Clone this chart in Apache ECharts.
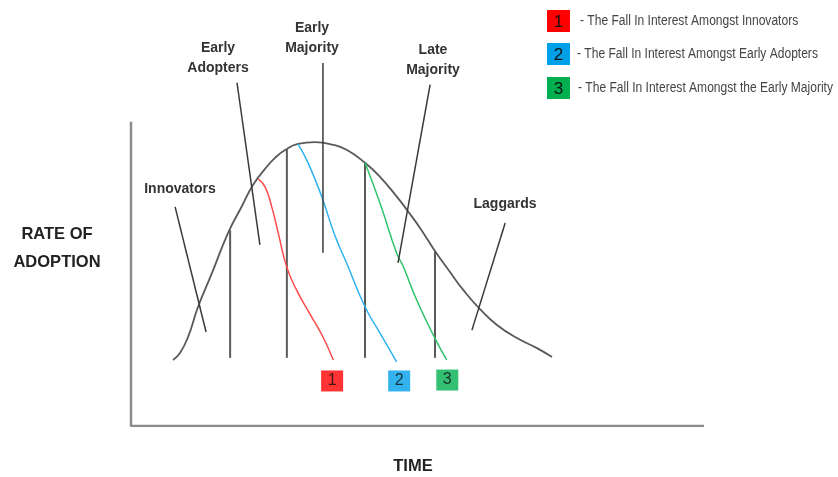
<!DOCTYPE html>
<html>
<head>
<meta charset="utf-8">
<script src="https://cdn.jsdelivr.net/npm/echarts@6/dist/echarts.min.js"></script>
<style>
html,body{margin:0;padding:0;background:#fff;}
#chart{width:838px;height:477px;}
</style>
</head>
<body>
<div id="chart"></div>
<script>
// ---- data (time units 0..100, rate units 0..100) ----
const bellCurve = [[7.33,21.7],[8.55,24.0],[9.95,29.2],[11.69,39.1],[14.14,50.3],[16.93,63.4],[19.37,72.3],[21.29,79.2],[23.39,84.5],[25.13,88.1],[26.88,90.7],[29.14,92.7],[32.11,93.3],[35.08,92.5],[37.7,90.7],[40.84,86.5],[43.46,81.9],[46.42,75.3],[48.17,71.0],[50.44,65.1],[53.05,57.5],[55.67,50.6],[58.12,44.4],[60.91,38.4],[63.87,33.2],[67.36,28.9],[70.85,25.6],[73.47,22.7]];
const fallInnovators = [[22.22,81.1],[23.39,78.6],[24.55,72.1],[25.71,63.3],[27.17,52.3],[28.97,44.4],[31.24,36.8],[33.33,29.9],[35.31,21.7]];
const fallEarlyAdopters = [[29.14,92.7],[30.94,86.3],[33.28,75.4],[35.6,62.5],[37.64,53.5],[40.84,39.2],[43.46,30.5],[46.37,21.1]];
const fallEarlyMajority = [[40.84,86.5],[43.46,73.2],[46.37,56.8],[47.52,52.4],[49.86,41.4],[53.05,28.8],[55.1,21.7]];
const dividerX = [17.3, 27.2, 40.84, 53.05];
const dividerTop = [64.3, 91.0, 86.5, 57.5];
const dividerBase = 22.4;
const stageNames = ['Innovators', 'Early\nAdopters', 'Early\nMajority', 'Late\nMajority', 'Laggards'];
const pointerStart = [[7.7,72.0],[18.5,112.8],[33.5,119.3],[52.2,112.2],[65.3,66.7]];
const pointerEnd = [[13.1,30.9],[22.5,59.5],[33.5,56.9],[46.6,53.6],[59.5,31.5]];
const markerIds = ['1', '2', '3'];
const markerPos = [[35.1,14.8],[46.8,14.8],[55.2,15.1]];
const legendLabels = ['- The Fall In Interest Amongst Innovators', '- The Fall In Interest Amongst Early Adopters', '- The Fall In Interest Amongst the Early Majority'];
const axisTitleX = 'TIME';
const axisTitleY = 'RATE OF\nADOPTION';

// ---- styles ----
const fallColors = ['#ff4a4a', '#2fb2ef', '#2fc46a'];
const boxColors = ['#ff0000', '#00a0e8', '#00b050'];
const fallData = [fallInnovators, fallEarlyAdopters, fallEarlyMajority];
const textColor = '#333';
const labelFont = 'bold 14px "Liberation Sans", Arial, sans-serif';

const series = [];
series.push({type:'line', data:[[0,100],[0,0],[100,0]], symbol:'none', lineStyle:{color:'#8c8c8c', width:2.5}, silent:true});
series.push({type:'line', data:bellCurve, smooth:0.5, symbol:'none', lineStyle:{color:'#595959', width:1.8}});
dividerX.forEach((x,i)=>{
  series.push({type:'line', data:[[x,dividerBase],[x,dividerTop[i]]], symbol:'none', lineStyle:{color:'#5a5a5a', width:2}});
});
fallData.forEach((d,i)=>{
  series.push({type:'line', data:d, smooth:0.5, symbol:'none', lineStyle:{color:fallColors[i], width:1.5}});
});
pointerStart.forEach((p,i)=>{
  series.push({type:'line', data:[p, pointerEnd[i]], symbol:'none', lineStyle:{color:'#3a3a3a', width:1.5}});
});
series.push({type:'scatter', data:markerPos.map((p,i)=>({value:p, itemStyle:{color:boxColors[i]}, label:{formatter:markerIds[i]}})),
  symbol:'rect', symbolSize:[22,21],
  label:{show:true, position:'inside', color:'#111', fontSize:16, fontFamily:'"Liberation Sans", Arial, sans-serif'}});

const graphic = [];
const stageTextPos = [[180,189],[218,58],[312,38],[433,60],[505,204]];
stageNames.forEach((s,i)=>{
  graphic.push({type:'text', x:stageTextPos[i][0], y:stageTextPos[i][1],
    style:{text:s, font:labelFont, fill:textColor, align:'center', verticalAlign:'middle', lineHeight:20}});
});
graphic.push({type:'text', x:57, y:248, style:{text:axisTitleY, font:'bold 16.5px "Liberation Sans", Arial, sans-serif', fill:'#222', align:'center', verticalAlign:'middle', lineHeight:28}});
graphic.push({type:'text', x:413, y:466, style:{text:axisTitleX, font:'bold 16.5px "Liberation Sans", Arial, sans-serif', fill:'#222', align:'center', verticalAlign:'middle'}});
const legendY = [21, 54, 88];
const legendTextX = [580, 577, 578];
legendLabels.forEach((t,i)=>{
  graphic.push({type:'rect', shape:{x:547, y:legendY[i]-11, width:23, height:22}, style:{fill:boxColors[i]}});
  graphic.push({type:'text', x:558.5, y:legendY[i]+1, style:{text:markerIds[i], font:'17px "Liberation Sans", Arial, sans-serif', fill:'#111', align:'center', verticalAlign:'middle'}});
  graphic.push({type:'text', x:legendTextX[i], y:legendY[i], scaleX:0.86, style:{text:t, font:'14px "Liberation Sans", Arial, sans-serif', fill:'#444', align:'left', verticalAlign:'middle'}});
});

const chart = echarts.init(document.getElementById('chart'));
chart.setOption({
  animation:false,
  backgroundColor:'#fff',
  grid:{left:131, right:134, top:0, bottom:51},
  xAxis:{type:'value', min:0, max:100, show:false},
  yAxis:{type:'value', min:0, max:140, show:false},
  series:series,
  graphic:graphic
});
</script>
</body>
</html>
